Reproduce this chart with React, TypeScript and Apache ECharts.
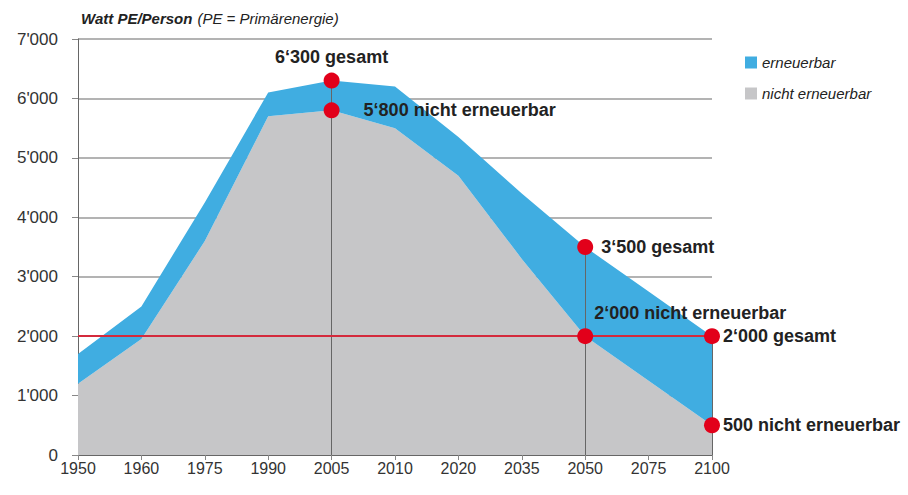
import React, { useEffect, useRef } from "react";
import * as echarts from "echarts";

const years = ["1950", "1960", "1975", "1990", "2005", "2010", "2020", "2035", "2050", "2075", "2100"];
const gesamt = [1700, 2500, 4250, 6100, 6300, 6200, 5350, 4400, 3500, 2750, 2000];
const nichtErneuerbar = [1200, 1950, 3600, 5700, 5800, 5500, 4700, 3300, 2000, 1250, 500];
const erneuerbar = gesamt.map((v, i) => v - nichtErneuerbar[i]);

const markerYears = ["2005", "2005", "2050", "2050", "2100", "2100"];
const markerValues = [6300, 5800, 3500, 2000, 2000, 500];
const markerTexts = [
  "6‘300 gesamt",
  "5‘800 nicht erneuerbar",
  "3‘500 gesamt",
  "2‘000 nicht erneuerbar",
  "2‘000 gesamt",
  "500 nicht erneuerbar",
];

const guideYears = ["2005", "2050", "2100"];
const guideValues = [6300, 3500, 2000];
const zielWert = 2000;

const FONT = "'Liberation Sans', Arial, sans-serif";

const labelStyles: any[] = [
  { position: "top", distance: 7 },
  { position: "right", distance: 24 },
  { position: "right", distance: 8 },
  { position: "right", distance: 1, offset: [0, -23] },
  { position: "right", distance: 3 },
  { position: "right", distance: 3 },
];

const fmt = (v: number) => {
  if (v < 1000) return String(v);
  const s = String(v);
  return s.slice(0, s.length - 3) + "'" + s.slice(s.length - 3);
};

export default function App() {
  const ref = useRef<HTMLDivElement>(null);
  useEffect(() => {
    document.body.style.margin = "0";
    if (!ref.current) return;
    const chart = echarts.init(ref.current, null, { renderer: "svg" });
    const option: any = {
      animation: false,
      backgroundColor: "#ffffff",
      textStyle: { fontFamily: FONT },
      title: {
        text: "{b|Watt PE/Person} {n|(PE = Primärenergie)}",
        left: 76,
        top: 4,
        textStyle: {
          rich: {
            b: { fontFamily: FONT, fontSize: 15, fontStyle: "italic", fontWeight: "bold", color: "#222" },
            n: { fontFamily: FONT, fontSize: 15, fontStyle: "italic", fontWeight: "normal", color: "#222" },
          },
        },
      },
      legend: {
        left: 740,
        top: 50,
        orient: "vertical",
        itemWidth: 12,
        itemHeight: 12,
        itemGap: 16,
        icon: "rect",
        data: ["erneuerbar", "nicht erneuerbar"],
        textStyle: { fontFamily: FONT, fontSize: 15, fontStyle: "italic", color: "#222" },
      },
      grid: { left: 78, right: 196, top: 39, bottom: 40 },
      xAxis: {
        type: "category",
        data: years,
        boundaryGap: false,
        axisLine: { show: true, lineStyle: { color: "#666", width: 1 } },
        axisTick: { show: true, alignWithLabel: true, length: 5, lineStyle: { color: "#888" } },
        axisLabel: { color: "#333", fontSize: 16, margin: 5, fontFamily: FONT },
        splitLine: { show: false },
      },
      yAxis: {
        type: "value",
        min: 0,
        max: 7000,
        interval: 1000,
        axisLine: { show: true, lineStyle: { color: "#666", width: 1 } },
        axisTick: { show: true, length: 6, lineStyle: { color: "#888" } },
        axisLabel: { color: "#333", fontSize: 17, margin: 20, fontFamily: FONT, formatter: fmt },
        splitLine: { show: true, lineStyle: { color: "#9a9a9a", width: 1.5 } },
      },
      series: [
        {
          name: "nicht erneuerbar",
          type: "line",
          stack: "pe",
          data: nichtErneuerbar,
          symbol: "none",
          lineStyle: { width: 0 },
          itemStyle: { color: "#c6c6c8" },
          areaStyle: { color: "#c6c6c8", opacity: 1 },
          z: 2,
        },
        {
          name: "erneuerbar",
          type: "line",
          stack: "pe",
          data: erneuerbar,
          symbol: "none",
          lineStyle: { width: 0 },
          itemStyle: { color: "#40ade1" },
          areaStyle: { color: "#40ade1", opacity: 1 },
          z: 2,
        },
        {
          name: "guides",
          type: "line",
          data: [],
          z: 4,
          silent: true,
          markLine: {
            silent: true,
            symbol: ["none", "none"],
            label: { show: false },
            data: [
              ...guideYears.map((y, i) => [
                { coord: [y, 0], lineStyle: { color: "#666", width: 1, type: "solid" } },
                { coord: [y, guideValues[i]] },
              ]),
              [
                { coord: [years[0], zielWert], lineStyle: { color: "#d42a3c", width: 2, type: "solid" } },
                { coord: [years[years.length - 1], zielWert] },
              ],
            ],
          },
        },
        {
          name: "marker",
          type: "scatter",
          z: 10,
          symbolSize: 16,
          itemStyle: { color: "#e2001a", opacity: 1 },
          data: markerYears.map((y, i) => ({
            value: [y, markerValues[i]],
            label: {
              show: true,
              formatter: markerTexts[i],
              fontFamily: FONT,
              fontSize: 18,
              fontWeight: "bold",
              color: "#222",
              ...labelStyles[i],
            },
          })),
        },
      ],
    };
    chart.setOption(option);
    return () => chart.dispose();
  }, []);
  return <div ref={ref} style={{ width: 908, height: 495 }} />;
}
